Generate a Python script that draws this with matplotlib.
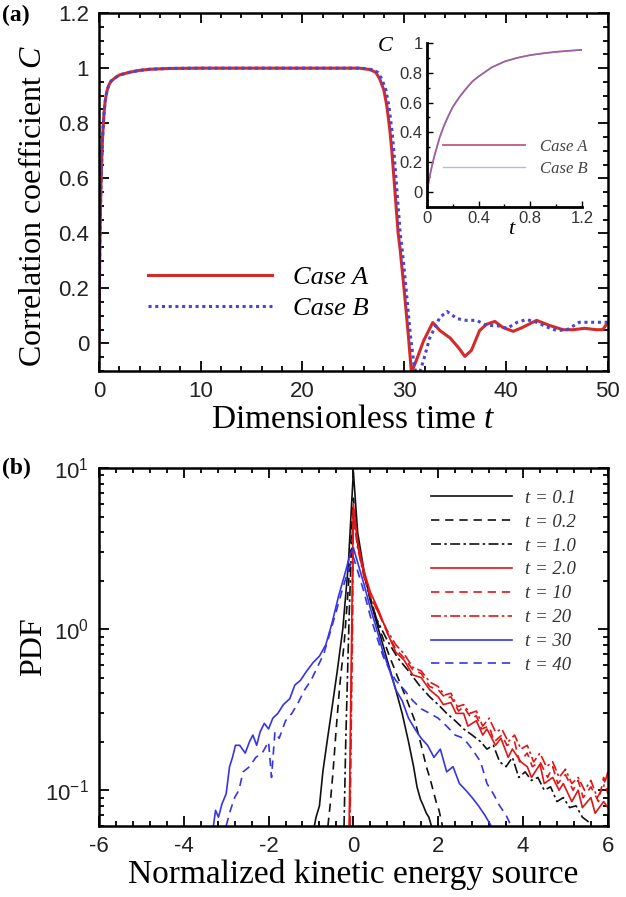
import numpy as np
import matplotlib
matplotlib.use("Agg")
import matplotlib.pyplot as plt
from matplotlib.ticker import MultipleLocator, FixedLocator, LogLocator, NullFormatter, FormatStrFormatter

plt.rcParams['font.family'] = ['Liberation Sans', 'DejaVu Sans']
plt.rcParams['axes.unicode_minus'] = False
plt.rcParams['mathtext.fontset'] = 'custom'
plt.rcParams['mathtext.rm'] = 'Liberation Serif'
plt.rcParams['mathtext.it'] = 'Liberation Serif:italic'

# ---- panel (a): correlation coefficient vs time ----
# early growth (same for both cases, also shown in the inset)
t_in = [0, 0.02, 0.04, 0.06, 0.08, 0.1, 0.13, 0.16, 0.2, 0.25, 0.3, 0.35, 0.4, 0.5, 0.6,
        0.7, 0.8, 0.9, 1.0, 1.1, 1.2]
c_in = [0, 0.1, 0.18, 0.25, 0.31, 0.37, 0.44, 0.5, 0.57, 0.635, 0.69, 0.74, 0.775, 0.835,
        0.875, 0.9, 0.918, 0.93, 0.94, 0.947, 0.953]

t_a_late = [1.6, 2, 3, 4, 5, 7, 10, 20, 25.6, 26.6, 27.2, 27.6, 28.0, 28.3, 28.6, 28.8, 29.1,
            29.4, 29.6, 30.0, 30.4, 30.7, 31.2, 31.9, 32.8, 33.5, 34.5, 35.3, 35.95, 36.6,
            37.4, 38.1, 38.9, 39.7, 40.7, 41.6, 43.0, 44.3, 45.6, 46.6, 47.7, 48.9, 49.5, 50]
c_a_late = [0.965, 0.975, 0.985, 0.992, 0.996, 0.999, 1.0, 1.0, 1.0, 0.995, 0.985, 0.96,
            0.92, 0.86, 0.77, 0.69, 0.545, 0.4, 0.34, 0.19, 0.03, -0.105, -0.06, 0.01, 0.076,
            0.047, 0.02, -0.014, -0.047, -0.025, 0.047, 0.07, 0.08, 0.058, 0.044, 0.058,
            0.084, 0.065, 0.05, 0.05, 0.055, 0.05, 0.05, 0.077]

t_b_late = [1.6, 2, 3, 4, 5, 7, 10, 20, 25.8, 26.8, 27.4, 27.8, 28.2, 28.5, 28.8, 29.0, 29.3,
            29.6, 29.8, 30.2, 30.6, 31.0, 31.4, 31.9, 32.5, 33.5, 34.2, 35.2, 36.1, 37.1,
            38.1, 39.1, 40.1, 41.1, 42.0, 43.0, 44.0, 45.0, 46.0, 47.2, 48.5, 50]
c_b_late = [0.965, 0.975, 0.985, 0.992, 0.996, 0.999, 1.0, 1.0, 1.0, 0.995, 0.985, 0.96,
            0.92, 0.86, 0.77, 0.69, 0.545, 0.4, 0.34, 0.19, 0.03, -0.09, -0.12, -0.06, 0.02,
            0.095, 0.116, 0.09, 0.084, 0.084, 0.065, 0.065, 0.055, 0.077, 0.087, 0.077, 0.06,
            0.047, 0.05, 0.077, 0.077, 0.077]

# ---- panel (b): PDF of normalized kinetic energy source ----
x_01 = [-0.92, -0.88, -0.8, -0.72, -0.62, -0.5, -0.38, -0.25, -0.12, 0, 0.1, 0.25, 0.4, 0.6,
        0.8, 1.0, 1.15, 1.3, 1.42, 1.5, 1.58, 1.65, 1.72, 1.78, 1.84]
y_01 = [0.06, 0.068, 0.08, 0.13, 0.2, 0.33, 0.55, 1.0, 2.5, 9.5, 4.0, 2.3, 1.5, 0.98, 0.64,
        0.42, 0.3, 0.2, 0.14, 0.105, 0.088, 0.08, 0.072, 0.068, 0.06]

x_02 = [-0.6, -0.55, -0.48, -0.4, -0.32, -0.22, -0.12, 0, 0.1, 0.25, 0.45, 0.65, 0.85, 1.05,
        1.25, 1.45, 1.6, 1.72, 1.8, 1.88, 1.95, 2.02, 2.1]
y_02 = [0.06, 0.08, 0.13, 0.25, 0.45, 0.8, 1.8, 6.5, 3.5, 2.2, 1.4, 0.95, 0.68, 0.5, 0.37,
        0.27, 0.19, 0.14, 0.12, 0.1, 0.085, 0.075, 0.06]

x_10 = [-0.22, -0.18, -0.14, -0.1, -0.06, 0, 0.08, 0.2, 0.35, 0.55, 0.8, 1.05, 1.3, 1.55, 1.8,
        2.0, 2.2, 2.4, 2.6, 2.8, 3.0, 3.15, 3.3, 3.45, 3.6, 3.75, 3.9, 4.05, 4.2, 4.35, 4.5,
        4.65, 4.8, 4.95, 5.1, 5.25, 5.4, 5.6]
y_10 = [0.06, 0.2, 0.5, 1.2, 2.5, 5.5, 3.6, 2.5, 1.7, 1.15, 0.85, 0.66, 0.55, 0.45, 0.38,
        0.34, 0.3, 0.27, 0.24, 0.22, 0.2, 0.18, 0.19, 0.15, 0.14, 0.16, 0.12, 0.13, 0.115,
        0.12, 0.1, 0.105, 0.085, 0.09, 0.078, 0.08, 0.068, 0.062]

x_20 = [-0.1, -0.08, -0.06, -0.04, -0.02, 0, 0.1, 0.25, 0.4, 0.6, 0.8, 1.0, 1.2, 1.4, 1.6, 1.8,
        2.0, 2.12, 2.3, 2.42, 2.6, 2.7, 2.9, 3.05, 3.15, 3.35, 3.48, 3.65, 3.75, 3.95, 4.1, 4.2,
        4.4, 4.5, 4.7, 4.85, 4.95, 5.15, 5.3, 5.4, 5.6, 5.7, 5.9, 6.0]
y_20 = [0.06, 0.15, 0.4, 1.0, 2.5, 6.0, 3.5, 2.3, 1.7, 1.3, 0.95, 0.72, 0.64, 0.52, 0.5, 0.42,
        0.38, 0.34, 0.35, 0.3, 0.3, 0.25, 0.27, 0.22, 0.24, 0.19, 0.21, 0.16, 0.18, 0.15,
        0.14, 0.12, 0.145, 0.11, 0.12, 0.1, 0.11, 0.085, 0.1, 0.078, 0.09, 0.072, 0.085,
        0.078]

x_100 = [-0.09, -0.07, -0.05, -0.03, -0.01, 0, 0.1, 0.25, 0.4, 0.6, 0.8, 1.0, 1.2, 1.4, 1.6,
         1.8, 2.0, 2.18, 2.3, 2.48, 2.6, 2.78, 2.9, 3.02, 3.2, 3.32, 3.5, 3.62, 3.8, 3.92, 4.1,
         4.22, 4.4, 4.58, 4.7, 4.82, 5.0, 5.18, 5.3, 5.42, 5.6, 5.78, 5.9, 6.0]
y_100 = [0.06, 0.15, 0.4, 1.0, 2.5, 5.5, 3.3, 2.2, 1.6, 1.25, 0.95, 0.75, 0.66, 0.56, 0.53,
         0.44, 0.42, 0.37, 0.38, 0.31, 0.33, 0.28, 0.29, 0.24, 0.25, 0.2, 0.22, 0.19, 0.2,
         0.15, 0.17, 0.14, 0.15, 0.12, 0.14, 0.11, 0.125, 0.1, 0.115, 0.09, 0.105, 0.085,
         0.12, 0.095]

x_200 = [-0.08, -0.06, -0.04, -0.02, -0.01, 0, 0.1, 0.25, 0.4, 0.6, 0.8, 1.0, 1.2, 1.4, 1.6,
         1.8, 2.0, 2.15, 2.3, 2.45, 2.6, 2.75, 2.9, 3.05, 3.2, 3.35, 3.5, 3.65, 3.8, 3.95, 4.1,
         4.25, 4.4, 4.55, 4.7, 4.85, 5.0, 5.15, 5.3, 5.45, 5.6, 5.75, 5.9, 6.0]
y_200 = [0.06, 0.15, 0.4, 1.0, 2.5, 5.0, 3.2, 2.1, 1.6, 1.25, 0.98, 0.8, 0.7, 0.58, 0.55,
         0.47, 0.44, 0.39, 0.4, 0.33, 0.34, 0.3, 0.31, 0.25, 0.28, 0.23, 0.24, 0.2, 0.22,
         0.18, 0.19, 0.15, 0.17, 0.14, 0.15, 0.12, 0.135, 0.11, 0.12, 0.1, 0.115, 0.09,
         0.105, 0.13]

x_300 = [-3.3, -3.25, -3.18, -3.1, -3.0, -2.92, -2.85, -2.78, -2.68, -2.55, -2.45, -2.37, -2.28,
         -2.2, -2.1, -2.0, -1.9, -1.78, -1.65, -1.5, -1.38, -1.25, -1.1, -0.95, -0.8, -0.65,
         -0.5, -0.35, -0.2, -0.08, 0, 0.1, 0.25, 0.4, 0.55, 0.7, 0.85, 1.0, 1.15, 1.3, 1.45,
         1.6, 1.75, 1.9, 2.05, 2.2, 2.35, 2.5, 2.65, 2.8, 2.95, 3.1, 3.25]
y_300 = [0.06, 0.075, 0.068, 0.082, 0.095, 0.14, 0.16, 0.19, 0.19, 0.17, 0.2, 0.22, 0.19, 0.23,
         0.26, 0.24, 0.28, 0.3, 0.34, 0.37, 0.45, 0.48, 0.55, 0.62, 0.68, 0.8, 1.1, 1.6, 2.2,
         2.9, 3.2, 2.6, 1.9, 1.35, 1.0, 0.72, 0.56, 0.42, 0.36, 0.28, 0.24, 0.21, 0.19, 0.16,
         0.18, 0.13, 0.14, 0.11, 0.1, 0.09, 0.08, 0.07, 0.06]

x_400 = [-3.0, -2.9, -2.8, -2.7, -2.6, -2.45, -2.3, -2.15, -2.0, -1.93, -1.85, -1.75, -1.6,
         -1.45, -1.3, -1.15, -1.0, -0.85, -0.7, -0.55, -0.4, -0.25, -0.1, 0, 0.1, 0.25, 0.4,
         0.55, 0.7, 0.85, 1.0, 1.2, 1.4, 1.6, 1.8, 2.0, 2.2, 2.4, 2.6, 2.8, 3.0, 3.15, 3.3,
         3.45, 3.6, 3.72]
y_400 = [0.06, 0.075, 0.09, 0.1, 0.13, 0.14, 0.16, 0.17, 0.2, 0.12, 0.23, 0.21, 0.27, 0.3,
         0.35, 0.42, 0.48, 0.58, 0.7, 0.95, 1.3, 1.8, 2.4, 2.8, 2.3, 1.7, 1.2, 0.9, 0.68, 0.56,
         0.48, 0.42, 0.36, 0.32, 0.3, 0.28, 0.25, 0.22, 0.21, 0.18, 0.15, 0.11, 0.095, 0.08,
         0.07, 0.06]

pdf_labels = ['t = 0.1', 't = 0.2', 't = 1.0', 't = 2.0', 't = 10', 't = 20', 't = 30', 't = 40']

RED = '#d42a2a'
BLUE = '#4646d6'
PRED = '#e01515'
PBLUE = '#3535e5'
PBLACK = '#111111'
SERIF = 'Liberation Serif'
XLABEL_SIZE = 24
YLABEL_SIZE = 23


def style_axes(ax):
    for s in ax.spines.values():
        s.set_linewidth(1.8)
    ax.tick_params(which='both', direction='in', top=True, right=True, width=1.3,
                   labelsize=16, colors='black', labelcolor='#222222', pad=7)
    ax.tick_params(which='major', length=7)
    ax.tick_params(which='minor', length=3.5)


fig = plt.figure(figsize=(6.26, 8.97), dpi=100)

# ---------------- (a) ----------------
ax1 = fig.add_axes([0.158, 0.5864, 0.813, 0.399])
ax1.plot(t_in + t_a_late, c_in + c_a_late, color=RED, lw=2.2, label='Case A')
ax1.plot(t_in + t_b_late, c_in + c_b_late, color=BLUE, lw=2.2, ls=(0, (1, 1.2)), label='Case B')
ax1.set_xlim(0, 50)
ax1.set_ylim(-0.1, 1.2)
ax1.xaxis.set_major_locator(MultipleLocator(10))
ax1.xaxis.set_minor_locator(MultipleLocator(2))
ax1.yaxis.set_major_locator(MultipleLocator(0.2))
ax1.yaxis.set_minor_locator(MultipleLocator(0.05))
ax1.yaxis.set_major_formatter(FormatStrFormatter('%g'))
style_axes(ax1)
ax1.set_xlabel('Dimensionless time $t$', fontsize=XLABEL_SIZE, family=SERIF, labelpad=2)
ax1.set_ylabel('Correlation coefficient $C$', fontsize=YLABEL_SIZE, family=SERIF)
ax1.yaxis.set_label_coords(-0.1, 0.46)
ax1.legend(loc='center left', bbox_to_anchor=(0.096, 0.218), frameon=False,
           prop={'family': SERIF, 'style': 'italic', 'size': 19},
           handlelength=4.7, handletextpad=0.8, labelspacing=0.3, borderpad=0, borderaxespad=0)
fig.text(0.003, 0.983, '(a)', fontsize=17, family=SERIF, weight='bold', va='center')

# inset
axi = fig.add_axes([0.682, 0.7692, 0.2476, 0.183])
axi.plot(t_in, c_in, color='#c05a78', lw=1.3, label='Case A')
axi.plot(t_in, c_in, color='#7070c8', lw=1.0, alpha=0.6, label='Case B')
axi.set_xlim(0, 1.2)
axi.set_ylim(-0.1, 1.0)
axi.spines['top'].set_visible(False)
axi.spines['right'].set_visible(False)
for s in ['left', 'bottom']:
    axi.spines[s].set_linewidth(2.0)
axi.xaxis.set_major_locator(FixedLocator([0, 0.4, 0.8, 1.2]))
axi.xaxis.set_minor_locator(MultipleLocator(0.2))
axi.yaxis.set_major_locator(MultipleLocator(0.2))
axi.yaxis.set_minor_locator(MultipleLocator(0.1))
axi.xaxis.set_major_formatter(FormatStrFormatter('%g'))
axi.yaxis.set_major_formatter(FormatStrFormatter('%g'))
axi.tick_params(which='both', direction='in', width=1.0, labelsize=12,
                labelcolor='#333333', pad=3)
axi.tick_params(which='major', length=4)
axi.tick_params(which='minor', length=2)
axi.set_xlabel('$t$', fontsize=16, family=SERIF)
axi.xaxis.set_label_coords(0.55, -0.08)
axi.set_ylabel('$C$', fontsize=16, family=SERIF, rotation=0)
axi.yaxis.set_label_coords(-0.27, 0.92)
axi.legend(loc='center left', bbox_to_anchor=(0.103, 0.30), frameon=False,
           prop={'family': SERIF, 'style': 'italic', 'size': 12},
           handlelength=4.9, handletextpad=0.9, labelspacing=0.35, borderpad=0, borderaxespad=0)
leg_i = axi.get_legend()
leg_i.get_lines()[1].set_alpha(0.5)
for txt in leg_i.get_texts():
    txt.set_color('#444444')

# ---------------- (b) ----------------
ax2 = fig.add_axes([0.158, 0.0792, 0.813, 0.399])
pdf_x = [x_01, x_02, x_10, x_20, x_100, x_200, x_300, x_400]
pdf_y = [y_01, y_02, y_10, y_20, y_100, y_200, y_300, y_400]
pdf_colors = [PBLACK, PBLACK, PBLACK, PRED, PRED, PRED, PBLUE, PBLUE]
pdf_styles = ['-', (0, (5, 3.5)), (0, (6, 2, 1.5, 2)), '-', (0, (5, 3.5)), (0, (6, 2, 1.5, 2)),
              '-', (0, (5, 3.5))]
for xs, ys, col, st, lab in zip(pdf_x, pdf_y, pdf_colors, pdf_styles, pdf_labels):
    ax2.plot(xs, ys, color=col, ls=st, lw=1.2, label=lab)
ax2.set_yscale('log')
ax2.set_xlim(-6, 6)
ax2.set_ylim(0.06, 10)
ax2.xaxis.set_major_locator(MultipleLocator(2))
ax2.xaxis.set_minor_locator(MultipleLocator(0.4))
ax2.yaxis.set_major_locator(LogLocator(base=10, numticks=10))
ax2.yaxis.set_minor_locator(LogLocator(base=10, subs=np.arange(2, 10), numticks=10))
ax2.yaxis.set_minor_formatter(NullFormatter())
style_axes(ax2)
ax2.set_xlabel('Normalized kinetic energy source', fontsize=XLABEL_SIZE, family=SERIF, labelpad=2)
ax2.set_ylabel('PDF', fontsize=YLABEL_SIZE, family=SERIF)
ax2.yaxis.set_label_coords(-0.1, 0.5)
leg2 = ax2.legend(loc='center left', bbox_to_anchor=(0.653, 0.682), frameon=False,
                  prop={'family': SERIF, 'style': 'italic', 'size': 13.5},
                  handlelength=4.3, handletextpad=0.7, labelspacing=0.36, borderpad=0,
                  borderaxespad=0)
for txt in leg2.get_texts():
    txt.set_color('#333333')
fig.text(0.003, 0.478, '(b)', fontsize=17, family=SERIF, weight='bold', va='center')

fig.savefig('out.png', dpi=100)
